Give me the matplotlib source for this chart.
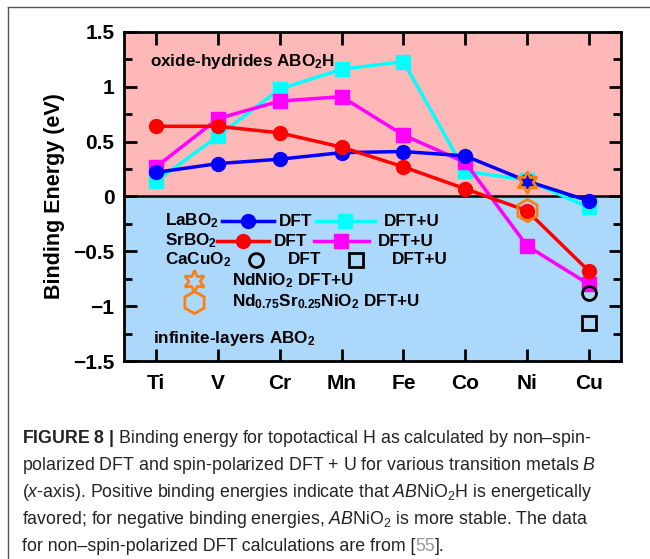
import matplotlib
matplotlib.use("Agg")
import matplotlib.pyplot as plt
from matplotlib.lines import Line2D

plt.rcParams['font.family'] = ['Liberation Sans', 'DejaVu Sans']
plt.rcParams['mathtext.default'] = 'regular'
plt.rcParams['mathtext.fontset'] = 'custom'
plt.rcParams['mathtext.it'] = 'Liberation Sans:italic'
plt.rcParams['mathtext.bf'] = 'Liberation Sans:bold'
plt.rcParams['mathtext.rm'] = 'Liberation Sans'

# data
metals = ['Ti', 'V', 'Cr', 'Mn', 'Fe', 'Co', 'Ni', 'Cu']
la_dft = [0.22, 0.30, 0.34, 0.40, 0.41, 0.37, 0.14, -0.04]
la_dftu = [0.14, 0.55, 0.98, 1.16, 1.23, 0.23, 0.15, -0.10]
sr_dft = [0.64, 0.64, 0.58, 0.45, 0.27, 0.07, -0.13, -0.68]
sr_dftu = [0.27, 0.71, 0.87, 0.91, 0.56, 0.31, -0.45, -0.80]
cacuo2_dft = -0.88
cacuo2_dftu = -1.15
ndnio2_dftu = 0.13
ndsr_dftu = -0.12

pink = '#ffb8b8'
lblue = '#abd8fb'
orange = '#ff7f0e'

fig = plt.figure(figsize=(6.5, 5.59), dpi=100)
ax = fig.add_axes([0.1908, 0.3542, 0.7646, 0.5886])

x = list(range(len(metals)))
ax.axhspan(0, 1.5, color=pink, zorder=0)
ax.axhspan(-1.5, 0, color=lblue, zorder=0)
ax.axhline(0, color='black', lw=1.8, zorder=1)

lw = 2.5
ms = 10
ax.plot(x, la_dftu, color='cyan', marker='s', ms=ms, lw=lw, zorder=3)
ax.plot(x, la_dft, color='blue', marker='o', ms=ms, lw=lw, zorder=4)
ax.plot(x, sr_dftu, color='magenta', marker='s', ms=ms, lw=lw, zorder=3)
ax.plot(x, sr_dft, color='red', marker='o', ms=ms, lw=lw, zorder=4)
ax.plot(metals.index('Cu'), cacuo2_dft, marker='o', ms=10, mfc='none', mec='black', mew=2, zorder=5)
ax.plot(metals.index('Cu'), cacuo2_dftu, marker='s', ms=10, mfc='none', mec='black', mew=2, zorder=5)
ax.plot(metals.index('Ni'), ndnio2_dftu, marker=(6, 1, 0), ms=16, mfc='none', mec=orange, mew=2, zorder=6)
ax.plot(metals.index('Ni'), ndsr_dftu, marker='h', ms=16, mfc='none', mec=orange, mew=2, zorder=6)

ax.set_xlim(-0.52, 7.52)
ax.set_ylim(-1.5, 1.5)
ax.set_xticks(x)
ax.set_xticklabels(metals)
ax.set_yticks([-1.5, -1, -0.5, 0, 0.5, 1, 1.5])
ax.set_yticklabels(['\u22121.5', '\u22121', '\u22120.5', '0', '0.5', '1', '1.5'])
ax.set_yticks([-1.25, -0.75, -0.25, 0.25, 0.75, 1.25], minor=True)
ax.tick_params(which='both', direction='in', top=True, right=True, width=2, labelsize=15)
ax.tick_params(which='major', length=9)
ax.tick_params(which='minor', length=6)
ax.tick_params(axis='x', pad=9)
ax.tick_params(axis='y', pad=7)
for lab in ax.get_xticklabels() + ax.get_yticklabels():
    lab.set_fontweight('bold')
for s in ax.spines.values():
    s.set_linewidth(2)
ax.set_ylabel('Binding Energy (eV)', fontsize=15.5, fontweight='bold', labelpad=6)

# annotations and hand-made legend
tb = dict(transform=ax.transAxes, fontweight='bold', fontsize=12.3, va='center')
ax.text(0.052, 0.909, 'oxide-hydrides ABO$_2$H', **tb)
ax.text(0.058, 0.067, 'infinite-layers ABO$_2$', **tb)

def sample(x0, x1, y, color, marker):
    ax.add_line(Line2D([x0, x1], [y, y], color=color, lw=lw, transform=ax.transAxes, zorder=7))
    ax.add_line(Line2D([(x0 + x1) / 2], [y], color=color, marker=marker, ms=ms,
                       transform=ax.transAxes, zorder=7))

ax.text(0.0825, 0.4255, 'LaBO$_2$', **tb)
sample(0.197, 0.302, 0.4255, 'blue', 'o')
ax.text(0.312, 0.4255, 'DFT', **tb)
sample(0.386, 0.505, 0.4255, 'cyan', 's')
ax.text(0.523, 0.4255, 'DFT+U', **tb)

ax.text(0.0825, 0.3647, 'SrBO$_2$', **tb)
sample(0.187, 0.292, 0.3647, 'red', 'o')
ax.text(0.302, 0.3647, 'DFT', **tb)
sample(0.382, 0.493, 0.3647, 'magenta', 's')
ax.text(0.511, 0.3647, 'DFT+U', **tb)

ax.text(0.0825, 0.307, 'CaCuO$_2$', **tb)
ax.add_line(Line2D([0.266], [0.307], marker='o', ms=10, mfc='none', mec='black', mew=2,
                   transform=ax.transAxes))
ax.text(0.330, 0.307, 'DFT', **tb)
ax.add_line(Line2D([0.467], [0.307], marker='s', ms=10, mfc='none', mec='black', mew=2,
                   transform=ax.transAxes))
ax.text(0.539, 0.307, 'DFT+U', **tb)

ax.add_line(Line2D([0.141], [0.243], marker=(6, 1, 0), ms=16, mfc='none', mec=orange, mew=2,
                   transform=ax.transAxes))
ax.text(0.217, 0.243, 'NdNiO$_2$ DFT+U', **tb)
ax.add_line(Line2D([0.141], [0.179], marker='h', ms=16, mfc='none', mec=orange, mew=2,
                   transform=ax.transAxes))
ax.text(0.217, 0.179, 'Nd$_{0.75}$Sr$_{0.25}$NiO$_2$ DFT+U', **tb)

# page frame
fig.add_artist(Line2D([8 / 650, 8 / 650], [0, 1 - 7 / 559], color='#555555', lw=1))
fig.add_artist(Line2D([8 / 650, 1], [1 - 7 / 559, 1 - 7 / 559], color='#555555', lw=1))

# caption
cfam = ['Liberation Sans', 'DejaVu Sans']
csize = 12.8
cap = dict(fontsize=csize, family=cfam, va='baseline', color='#222222')
lines = [
    r'$\mathbf{FIGURE\ 8\ |}$ Binding energy for topotactical H as calculated by non' + '\u2013' + 'spin-',
    r'polarized DFT and spin-polarized DFT + U for various transition metals $\mathit{B}$',
    r'($\mathit{x}$-axis). Positive binding energies indicate that $\mathit{AB}$NiO$_2$H is energetically',
    r'favored; for negative binding energies, $\mathit{AB}$NiO$_2$ is more stable. The data',
]
ys = [443, 470, 497, 524]
for s, yy in zip(lines, ys):
    fig.text(22 / 650, 1 - yy / 559, s, **cap)
t = fig.text(22 / 650, 1 - 551 / 559, 'for non\u2013spin-polarized DFT calculations are from [', **cap)
t2 = ax.annotate('55', xy=(1, 0), xycoords=t, va='bottom', ha='left', color='#999999',
                 fontsize=csize, family=cfam, annotation_clip=False)
ax.annotate('].', xy=(1, 0), xycoords=t2, va='bottom', ha='left', color='#222222',
            fontsize=csize, family=cfam, annotation_clip=False)

fig.savefig('out.png', dpi=100)
